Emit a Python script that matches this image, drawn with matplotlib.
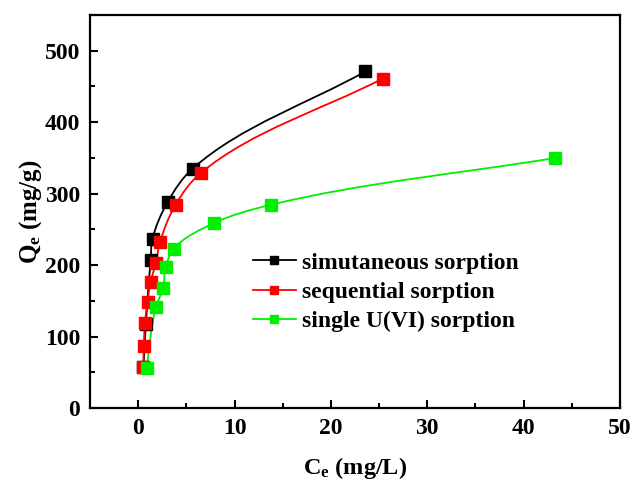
import matplotlib
matplotlib.use("Agg")
import matplotlib.pyplot as plt
from matplotlib.path import Path
from matplotlib.patches import PathPatch
import numpy as np

plt.rcParams['font.family'] = ['Liberation Serif', 'DejaVu Serif']
plt.rcParams['font.weight'] = 'bold'
plt.rcParams['mathtext.fontset'] = 'custom'
plt.rcParams['mathtext.rm'] = 'Liberation Serif:bold'
plt.rcParams['mathtext.bf'] = 'Liberation Serif:bold'
plt.rcParams['mathtext.it'] = 'Liberation Serif:bold'

# data
ce_simul = [0.55, 0.80, 1.29, 1.49, 3.05, 5.64, 23.57]
qe_simul = [57, 118, 207, 237, 288, 335, 471]

ce_seq = [0.52, 0.59, 0.70, 0.97, 1.29, 1.84, 2.26, 3.88, 6.50, 25.36]
qe_seq = [57.7, 86.6, 119, 148.5, 176.4, 203.5, 232, 284.5, 329, 461]

ce_single = [0.87, 1.84, 2.60, 2.85, 3.71, 7.90, 13.80, 43.30]
qe_single = [55.4, 141.5, 168, 197.4, 223, 259, 284.5, 350]

series = [
    ("simutaneous sorption", ce_simul, qe_simul, "black"),
    ("sequential sorption", ce_seq, qe_seq, "red"),
    ("single U(VI) sorption", ce_single, qe_single, "#00ee00"),
]


def smooth_path(ax, x, y):
    # smooth connector through the points (bezier, chord-length tangents), display space
    pts = ax.transData.transform(np.column_stack([x, y]))
    n = len(pts)
    tang = []
    for i in range(n):
        if i == 0:
            d = pts[1] - pts[0]
        elif i == n - 1:
            d = pts[-1] - pts[-2]
        else:
            a = pts[i] - pts[i - 1]
            b = pts[i + 1] - pts[i]
            d = a / np.hypot(*a) + b / np.hypot(*b)
        tang.append(d / np.hypot(*d))
    verts = [pts[0]]
    codes = [Path.MOVETO]
    for i in range(n - 1):
        seg = np.hypot(*(pts[i + 1] - pts[i]))
        verts += [pts[i] + tang[i] * seg / 3, pts[i + 1] - tang[i + 1] * seg / 3, pts[i + 1]]
        codes += [Path.CURVE4] * 3
    return Path(verts, codes)


fig = plt.figure(figsize=(6.34, 4.84), dpi=100)
ax = fig.add_axes([90 / 634, 1 - 408 / 484, 530 / 634, 393 / 484])

ax.set_xlim(-5, 50)
ax.set_ylim(0, 550)
fig.canvas.draw()

for label, xs, ys, col in series:
    path = smooth_path(ax, xs, ys)
    ax.add_patch(PathPatch(path, facecolor='none', edgecolor=col, lw=1.3,
                           transform=None, zorder=2))
    ax.plot(xs, ys, ls='none', marker='s', ms=8, color=col, zorder=3)
    ax.plot([], [], '-', marker='s', ms=8, color=col, lw=1.3, label=label)

ax.set_xticks(np.arange(0, 51, 10))
ax.set_xticks(np.arange(0, 51, 5), minor=True)
ax.set_yticks(np.arange(0, 501, 100))
ax.set_yticks(np.arange(0, 551, 50), minor=True)
ax.tick_params(which='both', direction='in', width=1.5, labelsize=17, pad=7)
ax.tick_params(which='major', length=6)
ax.tick_params(which='minor', length=3.5)
for s in ax.spines.values():
    s.set_linewidth(1.6)

ax.set_xlabel(r'$\mathbf{C_e}$ (mg/L)', fontsize=17.5, fontweight='bold', labelpad=12)
ax.set_ylabel(r'$\mathbf{Q_e}$ (mg/g)', fontsize=18, fontweight='bold', labelpad=1)

ax.legend(loc='center left', bbox_to_anchor=(0.29, 0.295), frameon=False,
          fontsize=17, handlelength=1.8, handletextpad=0.25, labelspacing=0.32,
          markerscale=0.65, borderaxespad=0)

fig.savefig("out.png", dpi=100)
